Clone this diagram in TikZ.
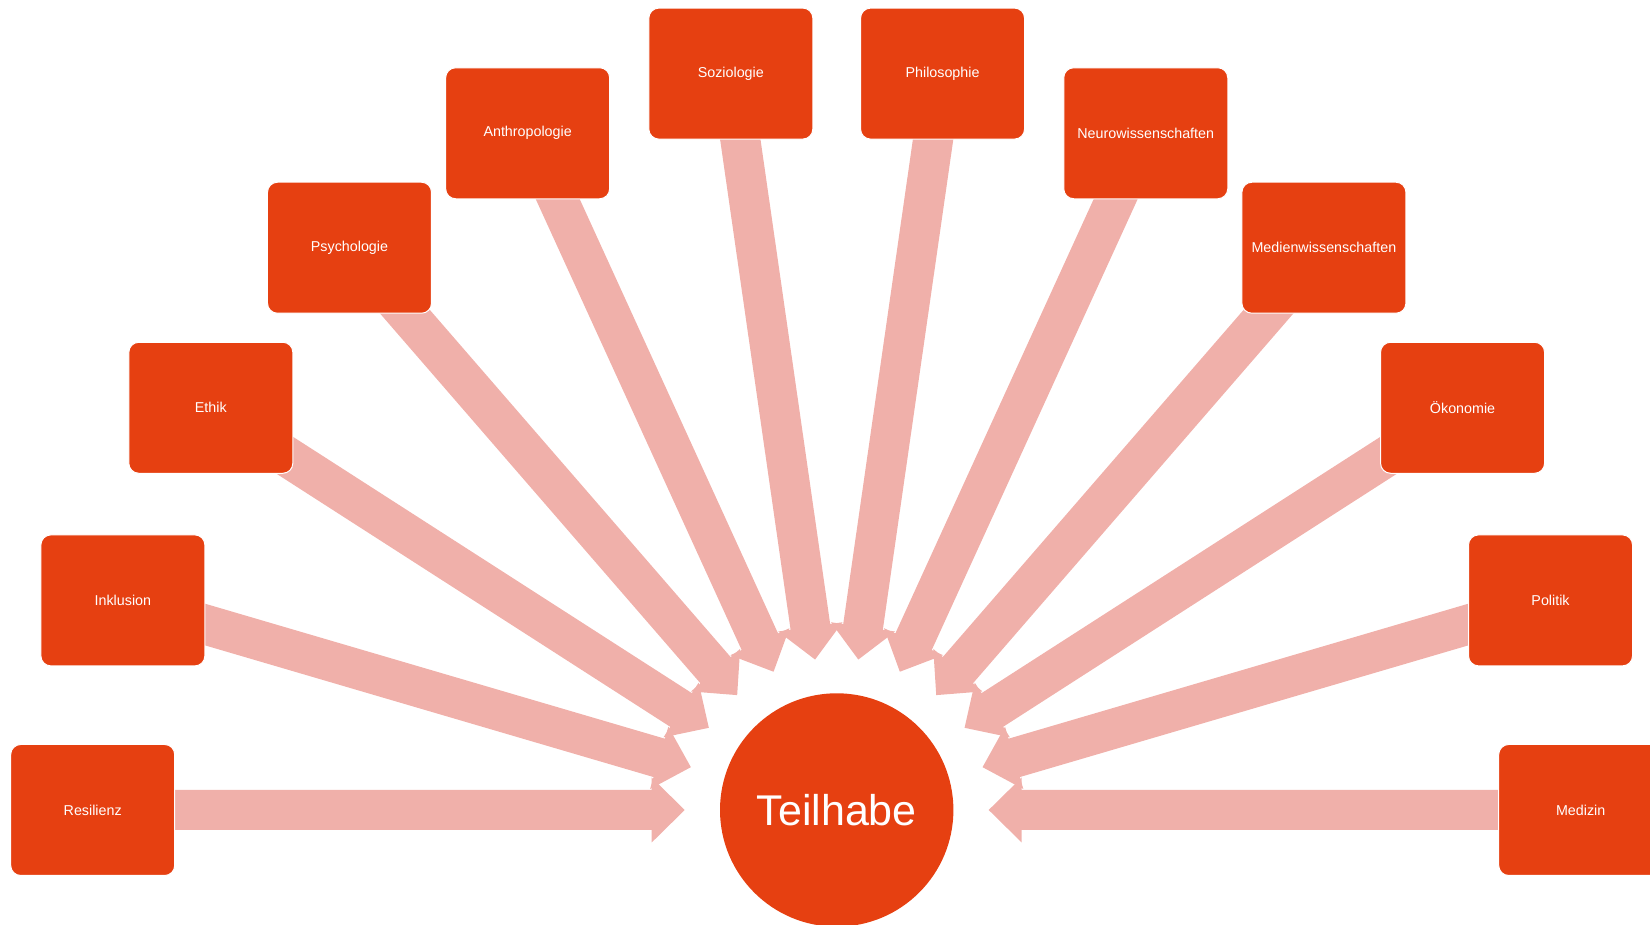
\documentclass[tikz,border=0pt]{standalone}
\usepackage{fontspec}
\setmainfont{Liberation Sans}
\usetikzlibrary{calc}
\definecolor{boxc}{RGB}{230,64,17}
\definecolor{arrc}{RGB}{240,176,170}
\pgfdeclarelayer{bg}
\pgfsetlayers{bg,main}
\begin{document}
\begin{tikzpicture}[x=1pt,y=1pt,
  box/.style={rectangle, rounded corners=10pt, fill=boxc, draw=white, line width=1pt,
    minimum width=164pt, minimum height=131pt, inner sep=0pt, text=white,
    font=\fontsize{14.3}{17}\selectfont},
  hub/.style={circle, fill=boxc, minimum size=233.4pt, inner sep=0pt, text=white,
    font=\fontsize{43}{50}\selectfont},
  conn/.style={fill=arrc}]
\useasboundingbox (0,0) rectangle (1650,925);
\clip (0,0) rectangle (1650,925);
\node[hub] (T) at (836.7,115) {Teilhabe};
\foreach \name/\txt [count=\k from 0] in {res/Resilienz, ink/Inklusion, eth/Ethik,
  psy/Psychologie, ant/Anthropologie, soz/Soziologie, phi/Philosophie,
  neu/Neurowissenschaften, med/Medienwissenschaften, oek/Ökonomie, pol/Politik, mez/Medizin} {
  \node[box] (\name) at ($(T.center)+({180-\k*180/11}:744)$) {\txt};
}
\begin{pgfonlayer}{bg}
\foreach \name in {res,ink,eth,psy,ant,soz,phi,neu,med,oek,pol,mez} {
  \coordinate (tip-\name) at ($(T.center)!152pt!(\name.center)$);
  \coordinate (hb-\name) at ($(T.center)!185pt!(\name.center)$);
  \fill[conn] (tip-\name)
    -- ($(hb-\name)!32.5pt!90:(\name.center)$)
    -- ($(hb-\name)!20pt!90:(\name.center)$)
    -- ($(\name.center)!20pt!-90:(hb-\name)$)
    -- ($(\name.center)!20pt!90:(hb-\name)$)
    -- ($(hb-\name)!20pt!-90:(\name.center)$)
    -- ($(hb-\name)!32.5pt!-90:(\name.center)$)
    -- cycle;
}
\end{pgfonlayer}
\end{tikzpicture}
\end{document}
